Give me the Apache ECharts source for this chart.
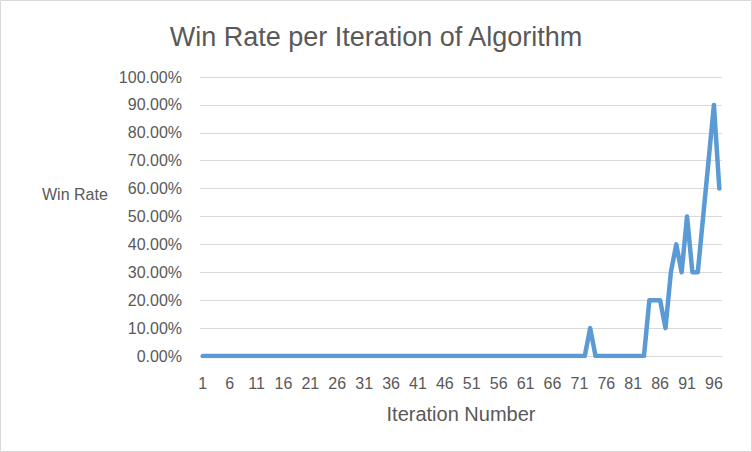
<!DOCTYPE html>
<html>
<head>
<meta charset="utf-8">
<script src="https://cdn.jsdelivr.net/npm/echarts@6/dist/echarts.min.js"></script>
<style>
html,body{margin:0;padding:0;background:#fff;}
#chart{width:752px;height:452px;}
</style>
</head>
<body>
<div id="chart"></div>
<script>
var iterations = [1,2,3,4,5,6,7,8,9,10,11,12,13,14,15,16,17,18,19,20,
  21,22,23,24,25,26,27,28,29,30,31,32,33,34,35,36,37,38,39,40,
  41,42,43,44,45,46,47,48,49,50,51,52,53,54,55,56,57,58,59,60,
  61,62,63,64,65,66,67,68,69,70,71,72,73,74,75,76,77,78,79,80,
  81,82,83,84,85,86,87,88,89,90,91,92,93,94,95,96,97];
var winRate = [0,0,0,0,0,0,0,0,0,0,0,0,0,0,0,0,0,0,0,0,
  0,0,0,0,0,0,0,0,0,0,0,0,0,0,0,0,0,0,0,0,
  0,0,0,0,0,0,0,0,0,0,0,0,0,0,0,0,0,0,0,0,
  0,0,0,0,0,0,0,0,0,0,0,0,0.1,0,0,0,0,0,0,0,
  0,0,0,0.2,0.2,0.2,0.1,0.3,0.4,0.3,0.5,0.3,0.3,0.5,0.7,0.9,0.6];
var yTicks = [0,0.1,0.2,0.3,0.4,0.5,0.6,0.7,0.8,0.9,1.0];
var titleText = 'Win Rate per Iteration of Algorithm';
var yName = 'Win Rate';
var xName = 'Iteration Number';

var FONT = 'Liberation Sans';
var chart = echarts.init(document.getElementById('chart'), null, {renderer:'svg'});
chart.setOption({
  animation:false,
  backgroundColor:'#ffffff',
  title:[
    {text:titleText,left:'center',top:18,
     textStyle:{fontFamily:FONT,fontSize:27,fontWeight:'normal',color:'#595959'}},
    {text:yName,left:37,top:181,
     textStyle:{fontFamily:FONT,fontSize:16,fontWeight:'normal',color:'#595959'}}
  ],
  graphic:[{type:'rect',shape:{x:0.5,y:0.5,width:751,height:451},
    style:{fill:'none',stroke:'#d9d9d9',lineWidth:1},silent:true}],
  grid:{left:200,right:30,top:77,bottom:96,containLabel:false,outerBoundsMode:'none'},
  xAxis:{
    type:'category',data:iterations,boundaryGap:true,
    name:xName,nameLocation:'middle',nameGap:48,
    nameTextStyle:{fontFamily:FONT,fontSize:20,color:'#595959'},
    axisLine:{lineStyle:{color:'#d9d9d9',width:1}},
    axisTick:{show:false},
    axisLabel:{interval:4,margin:19,fontFamily:FONT,fontSize:16,color:'#595959'}
  },
  yAxis:{
    type:'value',min:0,max:1,interval:0.1,
    axisLine:{show:false},axisTick:{show:false},
    splitLine:{lineStyle:{color:'#d9d9d9',width:1}},
    axisLabel:{margin:18,fontFamily:FONT,fontSize:16,color:'#595959',
      formatter:function(v){return (v*100).toFixed(2)+'%';}}
  },
  series:[{
    type:'line',data:winRate,symbol:'none',
    lineStyle:{color:'#5b9bd5',width:4.5,cap:'round',join:'round'}
  }]
});
</script>
</body>
</html>
